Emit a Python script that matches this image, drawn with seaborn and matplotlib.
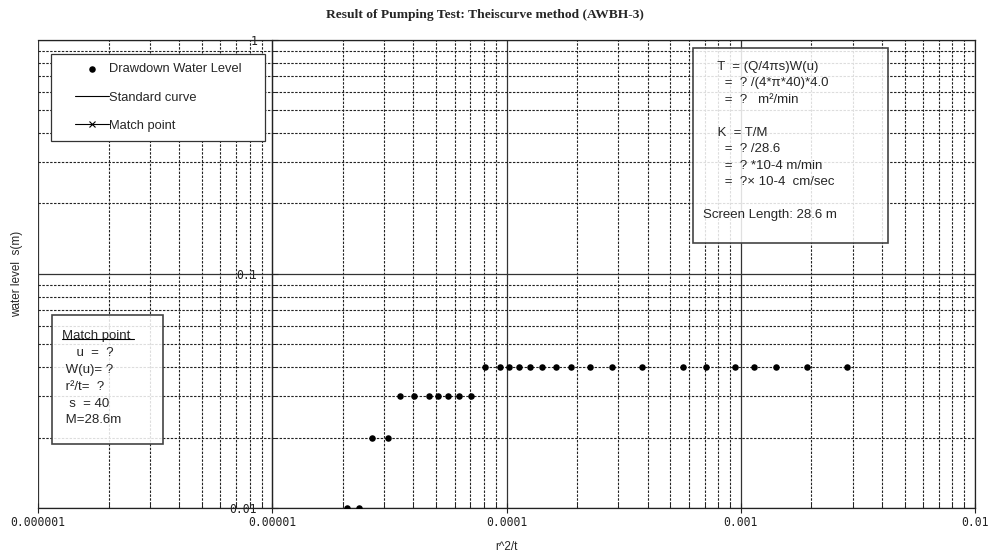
import matplotlib
matplotlib.use("Agg")
import matplotlib.pyplot as plt
import matplotlib.ticker as mticker
from matplotlib.patches import Rectangle
from matplotlib.lines import Line2D
import seaborn as sns
import pandas as pd

# drawdown data (r^2/t vs water level s)
r2t = [2.09e-5, 2.35e-5,
       2.67e-5, 3.11e-5,
       3.50e-5, 4.02e-5, 4.66e-5, 5.09e-5, 5.61e-5, 6.28e-5, 7.07e-5,
       8.05e-5, 9.36e-5, 1.02e-4, 1.13e-4, 1.26e-4, 1.42e-4, 1.62e-4,
       1.88e-4, 2.27e-4, 2.83e-4, 3.78e-4, 5.67e-4, 7.11e-4, 9.46e-4,
       1.14e-3, 1.41e-3, 1.91e-3, 2.84e-3]
s_level = [0.01, 0.01,
           0.02, 0.02,
           0.03, 0.03, 0.03, 0.03, 0.03, 0.03, 0.03,
           0.04, 0.04, 0.04, 0.04, 0.04, 0.04, 0.04,
           0.04, 0.04, 0.04, 0.04, 0.04, 0.04, 0.04,
           0.04, 0.04, 0.04, 0.04]

x_ticks = [1e-6, 1e-5, 1e-4, 1e-3, 1e-2]
x_tick_labels = ['0.000001', '0.00001', '0.0001', '0.001', '0.01']
y_ticks = [0.01, 0.1, 1]
y_tick_labels = ['0.01', '0.1', '1']

calc_text = ("    T  = (Q/4\u03c0s)W(u)\n"
             "      =  ? /(4*\u03c0*40)*4.0\n"
             "      =  ?   m\u00b2/min\n"
             "\n"
             "    K  = T/M\n"
             "      =  ? /28.6\n"
             "      =  ? *10-4 m/min\n"
             "      =  ?\u00d7 10-4  cm/sec\n"
             "\n"
             "Screen Length: 28.6 m")
match_text = ("Match point\n"
              "    u  =  ?\n"
              " W(u)= ?\n"
              " r\u00b2/t=  ?\n"
              "  s  = 40\n"
              " M=28.6m")

df = pd.DataFrame({'r2t': r2t, 's': s_level})

sns.set_style('white')
plt.rcParams['font.family'] = ['Liberation Sans', 'DejaVu Sans']

fig = plt.figure(figsize=(9.88, 5.54), dpi=100)
ax = fig.add_axes([0.0385, 0.083, 0.9485, 0.845])

sns.scatterplot(data=df, x='r2t', y='s', ax=ax, color='black', s=22,
                edgecolor='black', linewidth=0, zorder=5,
                label='Drawdown Water Level')
ax.plot([], [], color='black', lw=0.8, label='Standard curve')
ax.plot([], [], color='black', lw=0.8, marker='x', ms=4, mew=0.8,
        label='Match point')

ax.set_xscale('log')
ax.set_yscale('log')
ax.set_xlim(x_ticks[0], x_ticks[-1])
ax.set_ylim(y_ticks[0], y_ticks[-1])

ax.xaxis.set_major_locator(mticker.FixedLocator(x_ticks))
ax.xaxis.set_major_formatter(mticker.FixedFormatter(x_tick_labels))
ax.yaxis.set_major_locator(mticker.FixedLocator(y_ticks))
ax.yaxis.set_major_formatter(mticker.FixedFormatter(y_tick_labels))
ax.xaxis.set_minor_locator(mticker.LogLocator(base=10, subs=range(2, 10)))
ax.yaxis.set_minor_locator(mticker.LogLocator(base=10, subs=range(2, 10)))
ax.xaxis.set_minor_formatter(mticker.NullFormatter())
ax.yaxis.set_minor_formatter(mticker.NullFormatter())

ax.grid(True, which='major', color='#333333', linestyle='-', linewidth=0.9)
ax.grid(True, which='minor', color='#222222', linestyle=(0, (2.2, 1.3)),
        linewidth=0.8)

# y axis sits on the 0.00001 line like the original
ax.spines['left'].set_position(('data', x_ticks[1]))
for side in ['top', 'right', 'bottom', 'left']:
    ax.spines[side].set_color('#222222')
    ax.spines[side].set_linewidth(0.9)

for lab in ax.get_xticklabels() + ax.get_yticklabels():
    lab.set_fontfamily('DejaVu Sans Mono')
    lab.set_fontsize(8.3)
ax.tick_params(axis='x', which='major', bottom=True, direction='inout',
               length=7, width=0.8, pad=2, colors='#222222')
ax.tick_params(axis='x', which='minor', bottom=True, direction='in',
               length=4, width=0.7, colors='#222222')
ax.tick_params(axis='y', which='major', left=True, direction='in',
               length=4, width=0.8, pad=11, colors='#222222')
ax.tick_params(axis='y', which='minor', left=True, direction='in',
               length=3, width=0.7)

ax.set_xlabel('r^2/t', fontsize=8.5, labelpad=9)
ax.set_ylabel('water level  s(m)', fontsize=8.5)
ax.yaxis.set_label_coords(-0.016, 0.5)

fig.text(0.491, 0.973, 'Result of Pumping Test: Theiscurve method (AWBH-3)',
         ha='center', va='center', fontsize=9.7, fontweight='bold',
         family='Liberation Serif')

# legend frame drawn separately so the entries can sit further in
ax.add_patch(Rectangle((0.0139, 0.784), 0.228, 0.186, transform=ax.transAxes,
                       facecolor='white', edgecolor='#333333', linewidth=0.9,
                       zorder=9))
leg = ax.legend(loc='upper left', bbox_to_anchor=(0.0395, 0.950),
                borderaxespad=0, borderpad=0, frameon=False, fontsize=9.3,
                handlelength=2.6, handletextpad=0.05, labelspacing=1.25,
                scatterpoints=1, numpoints=1)
leg.set_zorder(10)

# calculation box on the right
ax.add_patch(Rectangle((0.699, 0.566), 0.208, 0.417, transform=ax.transAxes,
                       facecolor='white', alpha=0.85, edgecolor='none',
                       zorder=8))
ax.add_patch(Rectangle((0.699, 0.566), 0.208, 0.417, transform=ax.transAxes,
                       facecolor='none', edgecolor='#444444', linewidth=1.2,
                       zorder=9))
ax.text(0.710, 0.955, calc_text, transform=ax.transAxes, ha='left', va='top',
        fontsize=9.5, linespacing=1.50, zorder=10)

# match point box on the left
ax.add_patch(Rectangle((0.0149, 0.137), 0.118, 0.275, transform=ax.transAxes,
                       facecolor='white', alpha=0.85, edgecolor='none',
                       zorder=8))
ax.add_patch(Rectangle((0.0149, 0.137), 0.118, 0.275, transform=ax.transAxes,
                       facecolor='none', edgecolor='#444444', linewidth=1.2,
                       zorder=9))
ax.text(0.0256, 0.380, match_text, transform=ax.transAxes, ha='left',
        va='top', fontsize=9.5, linespacing=1.54, zorder=10)
ax.add_line(Line2D([0.0256, 0.1025], [0.361, 0.361], transform=ax.transAxes,
                   color='black', linewidth=0.8, zorder=10))

fig.savefig('out.png', dpi=100)
